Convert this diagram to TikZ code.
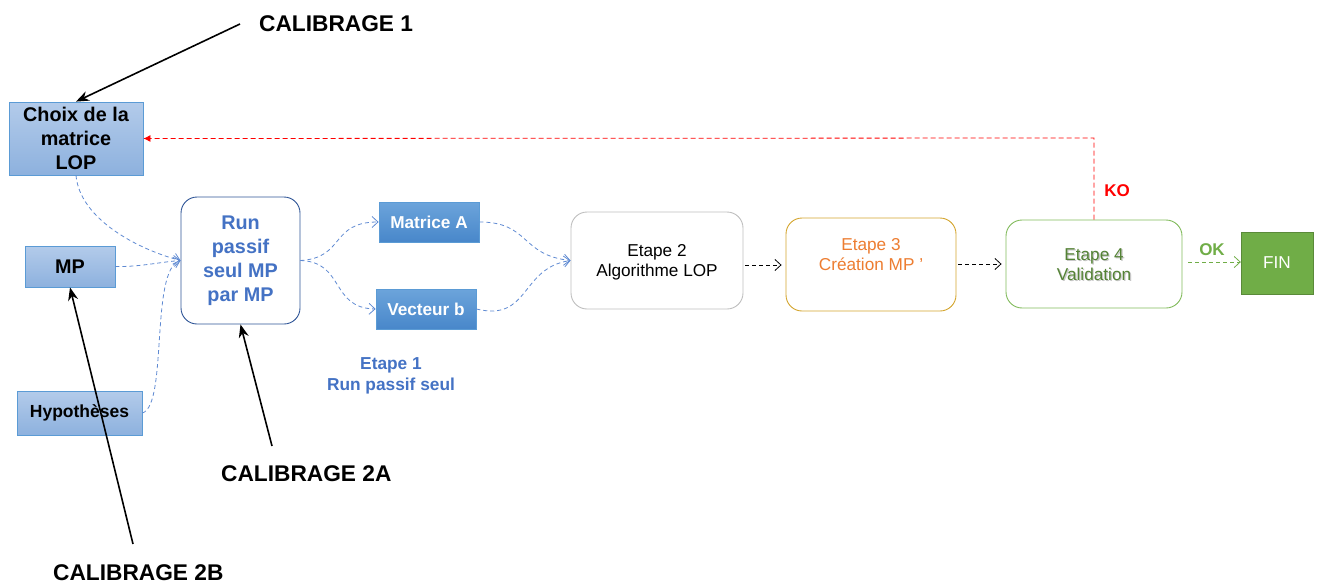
\documentclass[tikz,border=0pt]{standalone}
\usepackage{fontspec}
\setmainfont{Liberation Sans}
\usetikzlibrary{arrows.meta}

\definecolor{boxblue}{HTML}{5B9BD5}
\definecolor{lightTop}{HTML}{B3CBEA}
\definecolor{lightBot}{HTML}{8DB1DE}
\definecolor{midTop}{HTML}{6CA4DB}
\definecolor{midBot}{HTML}{4887CA}
\definecolor{runborder}{HTML}{2F5597}
\definecolor{runtext}{HTML}{4472C4}
\definecolor{flowblue}{HTML}{5F8AD2}
\definecolor{greyborder}{HTML}{BFBFBF}
\definecolor{goldborder}{HTML}{D4A52E}
\definecolor{orangetext}{HTML}{ED7D31}
\definecolor{greenborder}{HTML}{82BB5C}
\definecolor{greentext}{HTML}{548235}
\definecolor{finfill}{HTML}{70AD47}
\definecolor{okgreen}{HTML}{70AD47}

\tikzset{
  lightbox/.style={draw=boxblue, line width=0.8pt, top color=lightTop, bottom color=lightBot,
    inner sep=0pt, align=center, font=\bfseries\fontsize{19.8}{24}\selectfont, text=black},
  midbox/.style={draw=boxblue, line width=0.8pt, top color=midTop, bottom color=midBot,
    inner sep=0pt, align=center, font=\bfseries\fontsize{17.2}{20}\selectfont, text=white},
  stepbox/.style={draw, rounded corners=16pt, line width=0.9pt, fill=white, inner sep=0pt,
    align=center},
  steptext/.style={align=center, font=\fontsize{17.2}{20}\selectfont},
  flow/.style={flowblue, line width=0.8pt, dash pattern=on 4pt off 3pt,
    -{Straight Barb[length=6pt,width=11pt]}},
  blackflow/.style={black, line width=0.8pt, dash pattern=on 4pt off 3pt,
    -{Straight Barb[length=6pt,width=11pt]}, shorten <=2pt, shorten >=4pt},
  callout/.style={black, line width=1.6pt, -{Stealth[length=13pt,width=10pt]}},
  calltext/.style={font=\bfseries\fontsize{22.7}{26}\selectfont, inner sep=0pt},
}

\begin{document}
\begin{tikzpicture}[x=1pt,y=-1pt]
\useasboundingbox (0,0) rectangle (1321,586);

% left input boxes
\node[lightbox, minimum width=134pt, minimum height=73pt] (choix) at (76,138.5)
  {Choix de la\\matrice\\LOP};
\node[lightbox, minimum width=90pt, minimum height=41pt] (mp) at (70,266.5) {MP};
\node[lightbox, minimum width=125pt, minimum height=44pt,
  font=\bfseries\fontsize{17.5}{20}\selectfont] (hyp) at (79.5,413) {Hypothèses};

% step 1
\node[stepbox, draw=runborder, text=runtext, minimum width=119pt, minimum height=127pt,
  font=\bfseries\fontsize{19.8}{24}\selectfont] (run) at (240.5,260.5)
  {Run\\passif\\seul MP\\par MP};
\node[midbox, minimum width=100pt, minimum height=40pt] (matA) at (429,222) {Matrice A};
\node[midbox, minimum width=100pt, minimum height=40pt] (vecb) at (426,309) {Vecteur b};
\node[align=center, text=runtext, font=\bfseries\fontsize{17.3}{21}\selectfont] (etape1)
  at (391,376) {Etape 1\\Run passif seul};

% steps 2 to 4 and end
\node[stepbox, draw=greyborder, minimum width=172pt, minimum height=97pt] (e2) at (657,260.5) {};
\node[steptext] (e2t) at (657,262.5) {Etape 2\\Algorithme LOP};
\node[stepbox, draw=goldborder, minimum width=170pt, minimum height=93pt] (e3) at (871,264.5) {};
\node[steptext, text=orangetext] (e3t) at (871,255) {Etape 3\\Création MP '};
\node[stepbox, draw=greenborder, minimum width=176pt, minimum height=88pt] (e4) at (1094,264) {};
\node[steptext, text=black!22] (e4s) at (1095.2,266) {Etape 4\\Validation};
\node[steptext, text=greentext] (e4t) at (1094,264.8) {Etape 4\\Validation};
\node[draw=finfill!80!black, fill=finfill, text=white, minimum width=72pt, minimum height=62pt,
  inner sep=0pt, font=\fontsize{17.2}{20}\selectfont] (fin) at (1277,263) {FIN};

% loop back when validation fails
\coordinate (kocorner) at (1094,138);
\draw[red, line width=0.8pt, dash pattern=on 5pt off 3pt, -{Latex[length=7pt,width=7pt]}]
  (e4.north) -- (kocorner) -- (choix.east);
\node[text=red, font=\bfseries\fontsize{17}{20}\selectfont] (ko) at (1117,191) {KO};

% data flows into step 1
\draw[flow] (choix.south) .. controls (80,220) and (140,250) .. (run.west);
\draw[flow] (mp.east) .. controls (140,267) and (160,262) .. (run.west);
\draw[flow] (hyp.east) .. controls (168,405) and (150,270) .. (run.west);
\draw[flow] (run.east) .. controls (345,258) and (330,222) .. (matA.west);
\draw[flow] (run.east) .. controls (345,262) and (330,308) .. (vecb.west);
\draw[flow] (matA.east) .. controls (530,222) and (520,255) .. (e2.west);
\draw[flow] (vecb.east) .. controls (530,322) and (520,268) .. (e2.west);

% main chain
\draw[blackflow] (e2.east |- 0,265) -- (e3.west |- 0,265);
\draw[blackflow] (e3.east |- 0,264) -- (e4.west |- 0,264);
\draw[okgreen, line width=0.8pt, dash pattern=on 4pt off 3pt, shorten <=6pt,
  -{Straight Barb[length=6pt,width=11pt]}] (e4.east |- 0,262) -- (fin.west |- 0,262);
\node[text=okgreen, font=\bfseries\fontsize{17}{20}\selectfont] (ok) at (1212,250) {OK};

% calibration callouts
\node[calltext, anchor=west] (cal1) at (259,24) {CALIBRAGE 1};
\node[calltext, anchor=west] (cal2a) at (221,474) {CALIBRAGE 2A};
\node[calltext, anchor=west] (cal2b) at (53,573) {CALIBRAGE 2B};
\coordinate (cal1tail) at (240,24);
\coordinate (cal2atail) at (272,446);
\coordinate (cal2btail) at (133,544);
\draw[callout] (cal1tail) -- (choix.north);
\draw[callout] (cal2atail) -- (run.south);
\draw[callout] (cal2btail) -- (mp.south);
\end{tikzpicture}
\end{document}
